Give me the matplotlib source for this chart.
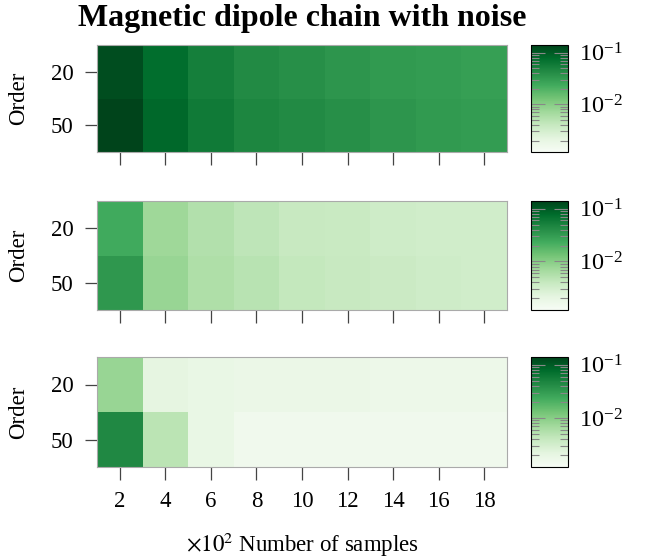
import numpy as np
import matplotlib
matplotlib.use("Agg")
import matplotlib.pyplot as plt
from matplotlib.colors import LogNorm

plt.rcParams['font.family'] = ['Liberation Serif', 'DejaVu Serif']
plt.rcParams['mathtext.fontset'] = 'stix'

samples = [2, 4, 6, 8, 10, 12, 14, 16, 18]
orders = ['20', '50']

# errors per panel, rows = order 20 / order 50
top_20 = [0.121, 0.075, 0.054, 0.043, 0.039, 0.035, 0.032, 0.031, 0.029]
top_50 = [0.140, 0.083, 0.059, 0.047, 0.043, 0.039, 0.035, 0.032, 0.031]
mid_20 = [0.0235, 0.0073, 0.0055, 0.0045, 0.0039, 0.0038, 0.0034, 0.0033, 0.0033]
mid_50 = [0.034, 0.0081, 0.0058, 0.0050, 0.0041, 0.0039, 0.0037, 0.0034, 0.0033]
bot_20 = [0.0081, 0.0021, 0.0019, 0.0018, 0.0018, 0.0018, 0.0017, 0.0017, 0.0017]
bot_50 = [0.045, 0.0048, 0.0019, 0.0015, 0.0015, 0.0015, 0.0015, 0.0015, 0.0015]

panels = [[top_20, top_50], [mid_20, mid_50], [bot_20, bot_50]]

W, H = 647, 558
FS = 16.5
fig = plt.figure(figsize=(W / 100, H / 100), dpi=100)

norm = LogNorm(vmin=1.2e-3, vmax=1.4e-1)
x_edges = np.arange(len(samples) + 1) * 2 + 1
y_edges = np.arange(len(orders) + 1) - 0.5

# pixel boxes: (top, bottom)
rows_px = [(45, 152), (201, 310), (357, 467)]
for i, (data, (yt, yb)) in enumerate(zip(panels, rows_px)):
    ax = fig.add_axes([97 / W, 1 - yb / H, (507 - 97) / W, (yb - yt) / H])
    im = ax.pcolormesh(x_edges, y_edges, np.array(data), cmap='Greens', norm=norm)
    ax.set_xlim(1, 19)
    ax.set_ylim(1.5, -0.5)
    ax.set_xticks(samples)
    ax.set_yticks(range(len(orders)))
    ax.set_yticklabels(orders)
    ax.tick_params(axis='both', colors='#444444', labelcolor='black',
                   labelsize=FS, length=9, width=0.9, pad=8)
    if i < 2:
        ax.set_xticklabels([])
    else:
        ax.set_xlabel(r'$\times10^2$ Number of samples', fontsize=FS, labelpad=14)
    for s in ax.spines.values():
        s.set_color('#aaaaaa')
        s.set_linewidth(0.8)
    ax.set_ylabel('Order', fontsize=FS)
    ax.yaxis.set_label_coords(-0.165, 0.5)

    cax = fig.add_axes([531 / W, 1 - yb / H, (568 - 531) / W, (yb - yt) / H])
    cb = fig.colorbar(im, cax=cax)
    cb.outline.set_edgecolor('black')
    cb.outline.set_linewidth(0.8)
    cax.tick_params(which='both', direction='in', left=True, right=True,
                    colors='#888888', labelcolor='black', labelsize=17.5, pad=8)
    cax.tick_params(which='major', length=10, width=0.8)
    cax.tick_params(which='minor', length=6, width=0.8)
    cax.set_yticks([1e-2, 1e-1])

    if i == 0:
        ax.set_title('Magnetic dipole chain with noise', fontsize=23,
                     fontweight='bold', pad=14)

fig.savefig('out.png', dpi=100)
